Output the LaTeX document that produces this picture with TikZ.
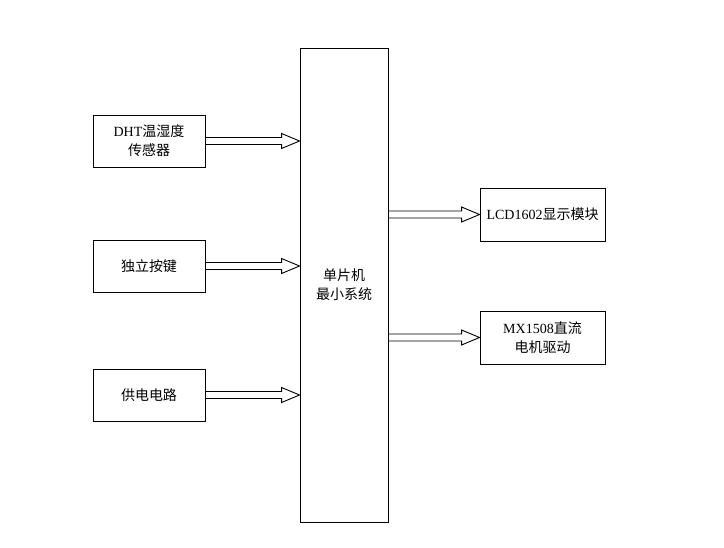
\documentclass[tikz,border=0pt]{standalone}
\usepackage{fontspec}
\setmainfont{Liberation Serif}
\newfontfamily\cjk{Noto Sans CJK SC}
\usetikzlibrary{calc}
\tikzset{
  blk/.style={draw=black, line width=0.9pt, fill=white, inner sep=0pt, align=center,
    font=\fontsize{14}{19}\selectfont},
  harrow/.style={draw=black, line width=0.9pt, fill=white}
}
\newcommand\hollowarrow[2]{%
  \draw[harrow] let \p1=(#1), \p2=(#2) in
    (\x1,\y1+3.5) -- (\x2-18,\y1+3.5) -- (\x2-18,\y1+7.5) -- (\x2,\y1)
    -- (\x2-18,\y1-7.5) -- (\x2-18,\y1-3.5) -- (\x1,\y1-3.5) -- cycle;}
\begin{document}
\begin{tikzpicture}[x=1pt,y=-1pt]
\useasboundingbox (0,0) rectangle (724,548);
% MCU
\node[blk, minimum width=88pt, minimum height=474pt] (mcu) at (344,285) {{\cjk 单片机}\\{\cjk 最小系统}};
% left
\node[blk, minimum width=112pt, minimum height=52pt] (b1) at (149,141) {DHT{\cjk 温湿度}\\{\cjk 传感器}};
\node[blk, minimum width=112pt, minimum height=52pt] (b2) at (149,266) {{\cjk 独立按键}};
\node[blk, minimum width=112pt, minimum height=52pt] (b3) at (149,395) {{\cjk 供电电路}};
% right
\node[blk, minimum width=125pt, minimum height=53pt] (r1) at (542.5,214.5) {LCD1602{\cjk 显示模块}};
\node[blk, minimum width=125pt, minimum height=53pt] (r2) at (542.5,337.5) {MX1508{\cjk 直流}\\{\cjk 电机驱动}};
% arrows
\coordinate (t1) at (mcu.west |- b1.east);
\coordinate (t2) at (mcu.west |- b2.east);
\coordinate (t3) at (mcu.west |- b3.east);
\coordinate (s4) at (mcu.east |- r1.west);
\coordinate (s5) at (mcu.east |- r2.west);
\hollowarrow{b1.east}{t1}
\hollowarrow{b2.east}{t2}
\hollowarrow{b3.east}{t3}
\hollowarrow{s4}{r1.west}
\hollowarrow{s5}{r2.west}
\end{tikzpicture}
\end{document}
